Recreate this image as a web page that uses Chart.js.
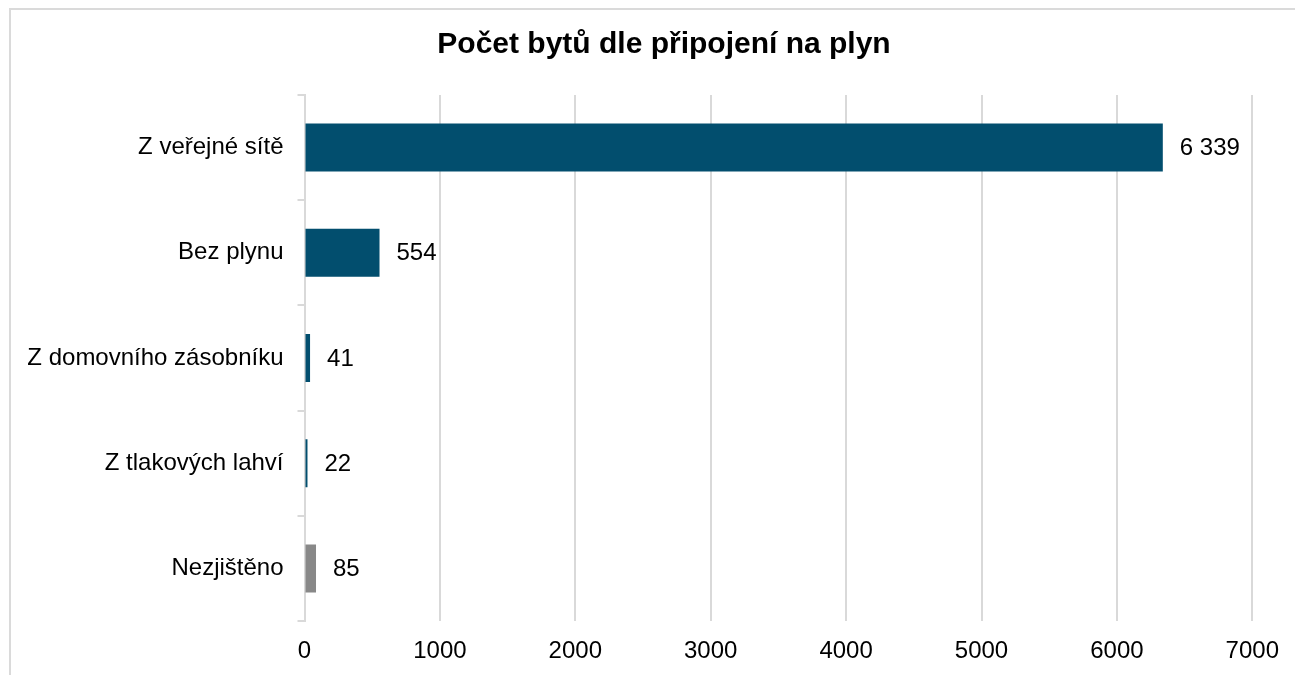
<!DOCTYPE html>
<html>
<head>
<meta charset="utf-8">
<script src="https://cdn.jsdelivr.net/npm/chart.js@4"></script>
<style>
  html, body { margin: 0; padding: 0; background: #fff; overflow: hidden; }
  #frame { position: absolute; left: 9px; top: 8px; width: 1400px; height: 800px; border: 2px solid #dadada; box-sizing: border-box; }
  #c { position: absolute; left: 0; top: 0; }
</style>
</head>
<body>
<div id="frame"></div>
<canvas id="c" width="1295" height="675"></canvas>
<script>
const chartTitle = 'Počet bytů dle připojení na plyn';
const categories = ['Z veřejné sítě', 'Bez plynu', 'Z domovního zásobníku', 'Z tlakových lahví', 'Nezjištěno'];
const values = [6339, 554, 41, 22, 85];
const barColors = ['#024e6e', '#024e6e', '#024e6e', '#024e6e', '#888888'];
const xTicks = [0, 1000, 2000, 3000, 4000, 5000, 6000, 7000];

const FONT = "'Liberation Sans', Arial, sans-serif";

function fmt(v) {
  return String(v).replace(/\B(?=(\d{3})+(?!\d))/g, ' ');
}

const titlePlugin = {
  id: 'customTitle',
  afterDraw(chart) {
    const ctx = chart.ctx;
    ctx.save();
    ctx.font = 'bold 30px ' + FONT;
    ctx.fillStyle = '#000';
    ctx.textAlign = 'center';
    ctx.textBaseline = 'alphabetic';
    ctx.fillText(chartTitle, 664, 53);
    ctx.restore();
  }
};

const labelPlugin = {
  id: 'valueLabels',
  afterDatasetsDraw(chart) {
    const ctx = chart.ctx;
    const meta = chart.getDatasetMeta(0);
    const xs = chart.scales.x;
    ctx.save();
    ctx.font = '24px ' + FONT;
    ctx.fillStyle = '#000';
    ctx.textAlign = 'left';
    ctx.textBaseline = 'middle';
    meta.data.forEach((bar, i) => {
      const v = chart.data.datasets[0].data[i];
      ctx.fillText(fmt(v), xs.getPixelForValue(v) + 17, bar.y + 1);
    });
    ctx.restore();
  }
};

new Chart(document.getElementById('c'), {
  type: 'bar',
  data: {
    labels: categories,
    datasets: [{
      data: values,
      backgroundColor: barColors,
      borderWidth: 0,
      barPercentage: 0.456,
      categoryPercentage: 1.0
    }]
  },
  options: {
    indexAxis: 'y',
    responsive: false,
    animation: false,
    devicePixelRatio: 1,
    layout: { padding: { top: 95, right: 42, bottom: 0, left: 0 } },
    plugins: {
      legend: { display: false },
      title: { display: false },
      tooltip: { enabled: false }
    },
    scales: {
      x: {
        min: 0,
        max: 7000,
        afterBuildTicks(scale) { scale.ticks = xTicks.map(v => ({ value: v })); },
        afterFit(scale) { scale.height = 54; },
        grid: { color: '#d9d9d9', lineWidth: 2, drawTicks: false },
        border: { display: false },
        ticks: {
          padding: 16,
          color: '#000',
          font: { family: FONT, size: 24 },
          maxRotation: 0,
          callback: (v) => String(v)
        }
      },
      y: {
        afterFit(scale) { scale.width = 304.5; },
        grid: { drawOnChartArea: false, drawTicks: true, tickLength: 7, color: '#d9d9d9', lineWidth: 2, offset: true },
        border: { display: true, color: '#d9d9d9', width: 2 },
        ticks: {
          padding: 14,
          color: '#000',
          font: { family: FONT, size: 24 }
        }
      }
    }
  },
  plugins: [titlePlugin, labelPlugin]
});
</script>
</body>
</html>
